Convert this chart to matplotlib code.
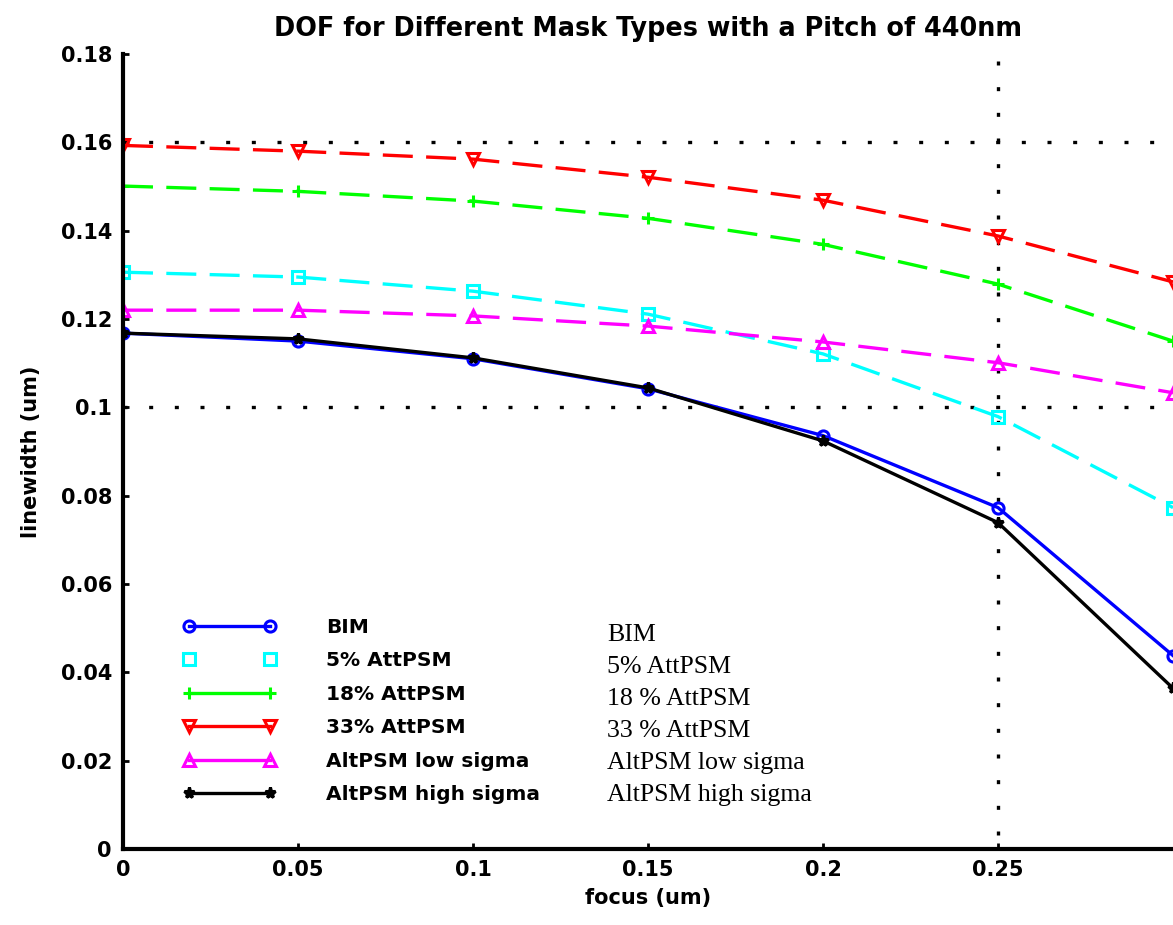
import matplotlib
matplotlib.use("Agg")
import matplotlib.pyplot as plt
from matplotlib.lines import Line2D

# focus positions (um)
focus = [0.0, 0.05, 0.10, 0.15, 0.20, 0.25, 0.30]

# printed linewidth (um) for each mask type
bim = [0.1168, 0.1150, 0.1110, 0.1042, 0.0936, 0.0773, 0.0438]
att5 = [0.1306, 0.1295, 0.1263, 0.1211, 0.1121, 0.0979, 0.0773]
att18 = [0.1501, 0.1489, 0.1467, 0.1428, 0.1369, 0.1279, 0.1150]
att33 = [0.1593, 0.1580, 0.1562, 0.1521, 0.1469, 0.1388, 0.1284]
alt_low = [0.1220, 0.1220, 0.1207, 0.1184, 0.1148, 0.1101, 0.1033]
alt_high = [0.1168, 0.1155, 0.1112, 0.1044, 0.0924, 0.0739, 0.0364]

labels = ["BIM", "5% AttPSM", "18% AttPSM", "33% AttPSM",
          "AltPSM low sigma", "AltPSM high sigma"]
notes = ["BIM", "5% AttPSM", "18 % AttPSM", "33 % AttPSM",
         "AltPSM low sigma", "AltPSM high sigma"]

x_ticks = [0, 0.05, 0.1, 0.15, 0.2, 0.25]
x_tick_labels = ["0", "0.05", "0.1", "0.15", "0.2", "0.25"]
y_ticks = [0, 0.02, 0.04, 0.06, 0.08, 0.1, 0.12, 0.14, 0.16, 0.18]
y_tick_labels = ["0", "0.02", "0.04", "0.06", "0.08", "0.1", "0.12", "0.14", "0.16", "0.18"]

W, H = 1173, 925
fig = plt.figure(figsize=(W / 100, H / 100), dpi=100)
fig.patch.set_facecolor("white")
ax = fig.add_axes([123 / W, 1 - 849 / H, 1050 / W, 795 / H])

series = [
    (bim, "#0000ff", "o", "-"),
    (att5, "#00ffff", "s", (0, (9, 4))),
    (att18, "#00ff00", "+", (0, (9, 4))),
    (att33, "#ff0000", "v", (0, (9, 4))),
    (alt_low, "#ff00ff", "^", (0, (9, 4))),
    (alt_high, "#000000", "*", "-"),
]

for vals, col, mk, ls in series:
    ax.plot(focus, vals, color=col, linestyle=ls, linewidth=2.4,
            marker=mk, markersize=8, markerfacecolor="none",
            markeredgecolor=col, markeredgewidth=2.2, clip_on=True)

# reference grid lines
dot = (0, (1.2, 6.5))
for yv in (0.16, 0.10):
    ax.axhline(yv, color="black", linestyle=dot, linewidth=2.4, zorder=0)
ax.axvline(0.25, color="black", linestyle=(3.5, (1.2, 6.5)), linewidth=2.4,
           zorder=0)

ax.set_xlim(0, 0.30)
ax.set_ylim(0, 0.18)
ax.set_xticks(x_ticks)
ax.set_xticklabels(x_tick_labels)
ax.set_yticks(y_ticks)
ax.set_yticklabels(y_tick_labels)
ax.tick_params(direction="in", length=4, width=2, labelsize=15, pad=8)
for lab in ax.get_xticklabels() + ax.get_yticklabels():
    lab.set_fontweight("bold")

for side in ("top", "right"):
    ax.spines[side].set_visible(False)
for side in ("left", "bottom"):
    ax.spines[side].set_linewidth(3)

ax.set_title("DOF for Different Mask Types with a Pitch of 440nm",
             fontsize=18.4, fontweight="bold", pad=13)
ax.set_xlabel("focus (um)", fontsize=15, fontweight="bold", labelpad=6)
ax.set_ylabel("linewidth (um)", fontsize=15, fontweight="bold", labelpad=14)

handles = []
for vals, col, mk, ls in series:
    handles.append(Line2D([], [], color=col,
                          linestyle="none" if col == "#00ffff" else "-",
                          linewidth=2.4, marker=mk, markersize=8,
                          markerfacecolor="none", markeredgecolor=col,
                          markeredgewidth=2.2))
leg = ax.legend(handles, labels, loc="upper left", numpoints=2,
                bbox_to_anchor=(183 / W, 1 - 618 / H),
                bbox_transform=fig.transFigure, frameon=False,
                borderpad=0, borderaxespad=0, handlelength=4.6,
                handletextpad=2.5, labelspacing=0.715,
                prop={"size": 14.5, "weight": "bold"})

for i, txt in enumerate(notes):
    fig.text(607 / W, 1 - (641 + 32 * i) / H, txt, fontsize=18.6,
             family="Liberation Serif", va="baseline", ha="left")

fig.savefig("out.png", dpi=100, facecolor="white")
